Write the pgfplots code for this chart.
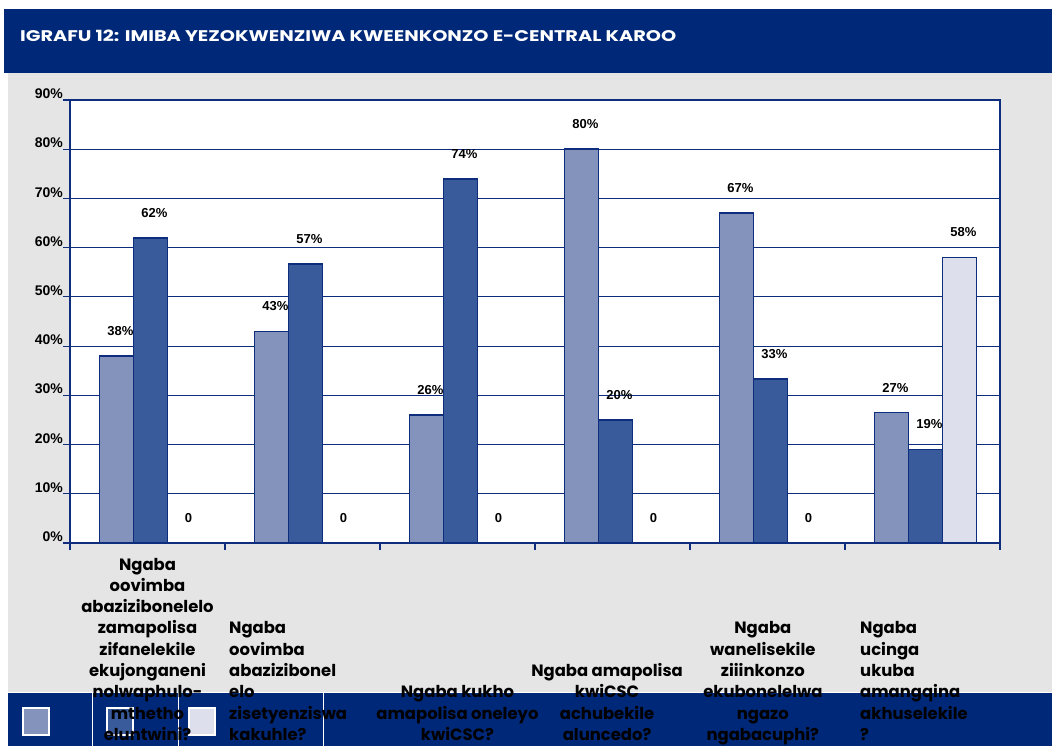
\documentclass[border=0pt]{standalone}
\usepackage{pgfplots}
\pgfplotsset{compat=1.18}
\usepackage{fontspec}
\setmainfont{Liberation Sans}
\newfontfamily\gothic{Poppins}

\definecolor{navy}{RGB}{0,40,120}
\definecolor{lineblue}{RGB}{15,45,125}
\definecolor{bgrey}{RGB}{229,229,229}
\definecolor{sA}{RGB}{132,147,187}
\definecolor{sB}{RGB}{58,91,155}
\definecolor{sC}{RGB}{221,224,236}

\tikzset{cat/.style={inner sep=0pt, yshift=-204pt,
  font=\gothic\bfseries\fontsize{16.4}{21.3}\selectfont}}

\begin{document}
\begin{tikzpicture}[x=1pt,y=1pt]
\path[use as bounding box] (0,0) rectangle (1052,746);
% background, title band, bottom band
\fill[bgrey] (8,0) rectangle (1052,673);
\fill[navy] (4,673) rectangle (1052,737);
\node[anchor=base west, inner sep=0pt, text=white] at (20,704)
  {\resizebox{656pt}{11.5pt}{\gothic\bfseries IGRAFU 12: IMIBA YEZOKWENZIWA KWEENKONZO E-CENTRAL KAROO}};
\fill[navy] (8,0) rectangle (1052,53);
\draw[white, line width=1pt] (8,53) -- (1052,53);
\foreach \sx in {92,178,323} \draw[white, line width=1pt] (\sx,0) -- (\sx,53);
\draw[white, line width=1.5pt, fill=sA] (23,11) rectangle (49,38);
\draw[white, line width=1.5pt, fill=sB] (107,11) rectangle (133,38);
\draw[white, line width=1.5pt, fill=sC] (189,11) rectangle (215,38);

\begin{axis}[
  at={(70pt,203pt)}, anchor=south west,
  scale only axis, width=930pt, height=443pt,
  ybar=0pt, bar width=34pt,
  xmin=0.5, xmax=6.5, ymin=0, ymax=90,
  xtick={0.5,1.5,...,6.5}, xticklabels={},
  ytick={0,10,...,90},
  yticklabel={\pgfmathprintnumber{\tick}\%},
  /pgf/number format/assume math mode=true,
  yticklabel style={anchor=south east, inner sep=0pt, xshift=0pt, yshift=1pt,
    font=\bfseries\fontsize{14}{16}\selectfont},
  tick align=outside, xtick pos=bottom, ytick pos=left,
  major tick length=7pt,
  tick style={lineblue, line width=1.2pt},
  axis line style={lineblue, line width=1.5pt},
  axis background/.style={fill=white},
  ymajorgrids, grid style={lineblue, line width=1pt},
  point meta=explicit symbolic,
  nodes near coords,
  every node near coord/.append style={anchor=center, yshift=25pt, xshift=4pt,
    font=\bfseries\fontsize{13}{15}\selectfont, text=black},
  clip=false,
]
\addplot[fill=sA, draw=lineblue, line width=1.5pt, bar shift=-31pt] coordinates {
  (1,38) [38\%] (2,43) [43\%] (3,26) [26\%] (4,80) [80\%] (5,67) [67\%] (6,26.5) [27\%]
};
\addplot[fill=sB, draw=lineblue, line width=1.5pt, bar shift=3pt] coordinates {
  (1,62) [62\%] (2,56.7) [57\%] (3,74) [74\%] (4,25) [20\%] (5,33.3) [33\%] (6,19) [19\%]
};
\addplot[fill=sC, draw=lineblue, line width=1.5pt, bar shift=37pt] coordinates {
  (1,0) [0] (2,0) [0] (3,0) [0] (4,0) [0] (5,0) [0] (6,58) [58\%]
};
% category labels
\node[cat, anchor=south, align=center] at (axis cs:1,0)
  {Ngaba\\oovimba\\abazizibonelelo\\zamapolisa\\zifanelekile\\ekujonganeni\\nolwaphulo-\\mthetho\\eluntwini?\strut};
\node[cat, anchor=south west, align=left] at (axis cs:1.526,0)
  {Ngaba\\oovimba\\abazizibonel\\elo\\zisetyenziswa\\kakuhle?\strut};
\node[cat, anchor=south, align=center] at (axis cs:3,0)
  {Ngaba kukho\\amapolisa oneleyo\\kwiCSC?\strut};
\node[cat, anchor=south, align=center] at (axis cs:3.965,0)
  {Ngaba amapolisa\\kwiCSC\\achubekile\\aluncedo?\strut};
\node[cat, anchor=south, align=center] at (axis cs:4.97,0)
  {Ngaba\\wanelisekile\\ziiinkonzo\\ekubonelelwa\\ngazo\\ngabacuphi?\strut};
\node[cat, anchor=south west, align=left] at (axis cs:5.597,0)
  {Ngaba\\ucinga\\ukuba\\amangqina\\akhuselekile\\?\strut};
\end{axis}
\end{tikzpicture}
\end{document}
